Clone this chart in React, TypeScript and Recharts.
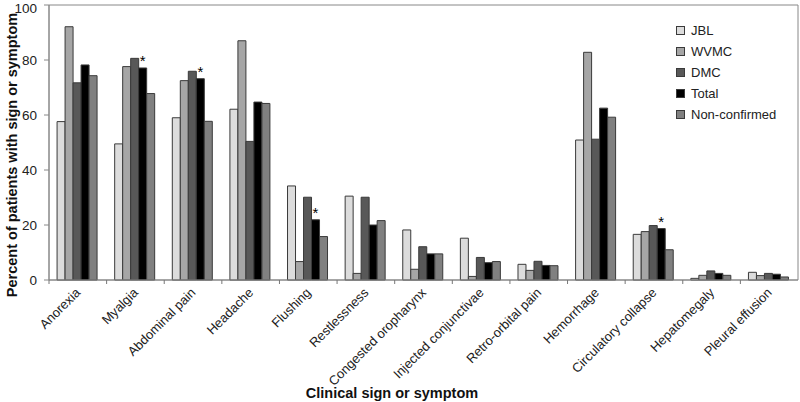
import { BarChart, Bar, XAxis, YAxis, Legend, LabelList, ReferenceArea } from 'recharts';

const categories = [
  'Anorexia',
  'Myalgia',
  'Abdominal pain',
  'Headache',
  'Flushing',
  'Restlessness',
  'Congested oropharynx',
  'Injected conjunctivae',
  'Retro-orbital pain',
  'Hemorrhage',
  'Circulatory collapse',
  'Hepatomegaly',
  'Pleural effusion',
];

const jbl = [57.6, 49.5, 59.0, 62.1, 34.2, 30.5, 18.2, 15.2, 5.7, 50.9, 16.6, 0.6, 2.8];
const wvmc = [92.1, 77.6, 72.5, 87.0, 6.7, 2.4, 3.9, 1.3, 3.5, 82.8, 17.6, 1.7, 1.6];
const dmc = [71.7, 80.6, 75.9, 50.4, 30.1, 30.1, 12.1, 8.2, 6.8, 51.2, 19.8, 3.3, 2.4];
const total = [78.2, 77.1, 73.2, 64.7, 21.9, 20.0, 9.5, 6.3, 5.3, 62.5, 18.7, 2.4, 2.1];
const nonConfirmed = [74.3, 67.8, 57.7, 64.2, 15.8, 21.6, 9.5, 6.7, 5.2, 59.2, 11.0, 1.7, 1.1];
const stars = ['', '*', '*', '', '*', '', '', '', '', '', '*', '', ''];

const yTicks = [0, 20, 40, 60, 80, 100];

const data = categories.map((name, i) => ({
  name,
  JBL: jbl[i],
  WVMC: wvmc[i],
  DMC: dmc[i],
  Total: total[i],
  'Non-confirmed': nonConfirmed[i],
  star: stars[i],
}));

const font = "Arial, 'Liberation Sans', sans-serif";
const outline = '#3a3a3a';

const series = [
  { key: 'JBL', color: '#dcdcdc' },
  { key: 'WVMC', color: '#a6a6a6' },
  { key: 'DMC', color: '#585858' },
  { key: 'Total', color: '#000000' },
  { key: 'Non-confirmed', color: '#808080' },
];

// category labels at 45deg, with Excel-style tick marks between the groups
const CategoryTick = (props: any) => {
  const { x, y, payload } = props;
  const half = 749 / categories.length / 2;
  const px = x + 1;
  const py = y + 11;
  return (
    <g>
      <line x1={x - half} x2={x - half} y1={y} y2={y + 4} stroke="#777" strokeWidth={1} />
      <text
        x={px}
        y={py}
        transform={`rotate(-45, ${px}, ${py})`}
        textAnchor="end"
        dominantBaseline="middle"
        fontSize={13}
        fontFamily={font}
        fill="#222"
      >
        {payload.value}
      </text>
    </g>
  );
};

const LegendBox = () => (
  <div style={{ fontFamily: font, fontSize: 13, color: '#222' }}>
    {series.map((s) => (
      <div key={s.key} style={{ display: 'flex', alignItems: 'center', height: 21 }}>
        <span
          style={{
            width: 7,
            height: 7,
            background: s.color,
            border: `1px solid ${outline}`,
            marginRight: 6,
            display: 'inline-block',
          }}
        />
        <span>{s.key}</span>
      </div>
    ))}
  </div>
);

export default function App() {
  return (
    <div style={{ position: 'absolute', left: 0, top: 0, width: 800, height: 402, background: '#fff' }}>
      <BarChart
        width={800}
        height={402}
        data={data}
        margin={{ top: 5, right: 2, left: 0, bottom: 0 }}
        barGap={0}
        barCategoryGap="14%"
      >
        <ReferenceArea y1={0} y2={100} fill="none" stroke="#888" strokeWidth={1} />
        <XAxis
          dataKey="name"
          interval={0}
          height={122}
          stroke="#888"
          tickLine={false}
          tickSize={0}
          tickMargin={0}
          tick={<CategoryTick />}
          label={{
            content: () => (
              <text x={392} y={398} textAnchor="middle" fontSize={14.5} fontWeight="bold" fontFamily={font} fill="#111">
                Clinical sign or symptom
              </text>
            ),
          }}
        />
        <YAxis
          width={49}
          domain={[0, 100]}
          ticks={yTicks}
          stroke="#888"
          tickSize={5}
          tickMargin={7}
          tick={{ fontSize: 13.5, fontFamily: font, fill: '#222' }}
          label={{
            content: () => (
              <text
                x={13}
                y={155}
                transform="rotate(-90, 13, 155)"
                textAnchor="middle"
                dominantBaseline="middle"
                fontSize={14.5}
                fontWeight="bold"
                fontFamily={font}
                fill="#111"
              >
                Percent of patients with sign or symptom
              </text>
            ),
          }}
        />
        <Legend
          layout="vertical"
          align="center"
          verticalAlign="middle"
          wrapperStyle={{ left: 676, top: 20, width: 120 }}
          content={<LegendBox />}
        />
        {series.map((s) => (
          <Bar key={s.key} dataKey={s.key} fill={s.color} stroke={outline} strokeWidth={1} isAnimationActive={false}>
            {s.key === 'Total' ? (
              <LabelList dataKey="star" position="top" offset={2} fontSize={15} fontFamily={font} fill="#000" />
            ) : null}
          </Bar>
        ))}
      </BarChart>
    </div>
  );
}
